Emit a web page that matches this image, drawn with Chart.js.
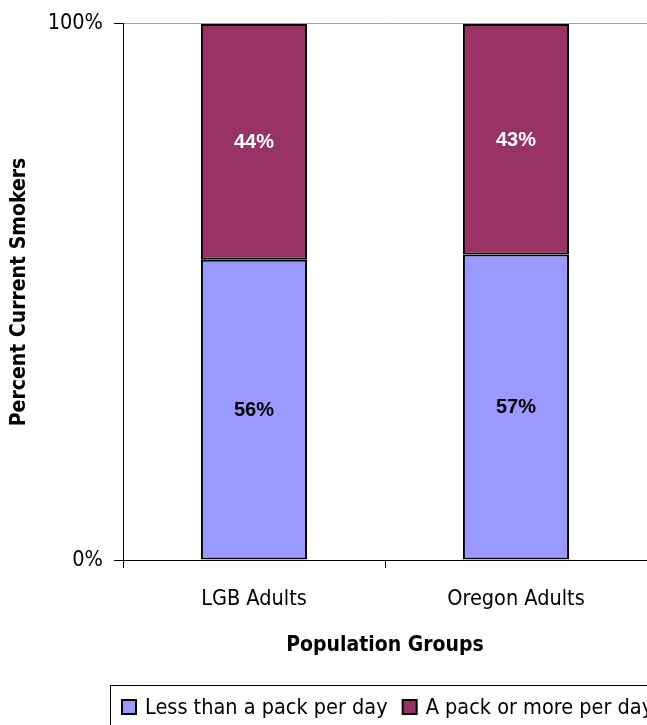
<!DOCTYPE html>
<html>
<head>
<meta charset="utf-8">
<script src="https://cdn.jsdelivr.net/npm/chart.js@4"></script>
<style>
  html, body { margin: 0; padding: 0; background: #fff; overflow: hidden; }
  #wrap { width: 647px; height: 725px; }
</style>
</head>
<body>
<div id="wrap"><canvas id="c" width="647" height="725"></canvas></div>
<script>
// Population groups on the x axis
const groups = ['LGB Adults', 'Oregon Adults'];
// Share of current smokers by amount smoked (percent)
const lessThanPack = [56, 57];
const packOrMore = [44, 43];
const seriesNames = ['Less than a pack per day', 'A pack or more per day'];
const yTickValues = [0, 100];

const NARROW = '"Liberation Sans Narrow", "Arial Narrow", "DejaVu Sans Condensed", sans-serif';
const SANS = '"Liberation Sans", Arial, sans-serif';
const TEXT_SIZE = 21.5;
const TITLE_SIZE = 21;

// Percent text in the middle of each stacked segment
const segmentLabels = {
  id: 'segmentLabels',
  afterDatasetsDraw(chart) {
    const ctx = chart.ctx;
    ctx.save();
    ctx.font = 'bold 20px ' + SANS;
    ctx.textAlign = 'center';
    ctx.textBaseline = 'middle';
    chart.data.datasets.forEach((ds, di) => {
      const meta = chart.getDatasetMeta(di);
      meta.data.forEach((bar, i) => {
        const v = ds.data[i];
        ctx.fillStyle = ds.labelColor;
        ctx.fillText(v + '%', bar.x, (bar.y + bar.base) / 2 + 1);
      });
    });
    ctx.restore();
  }
};

// Boxed legend below the axis title
const boxLegend = {
  id: 'boxLegend',
  afterDraw(chart) {
    const ctx = chart.ctx;
    ctx.save();
    ctx.font = TEXT_SIZE + 'px ' + NARROW;
    ctx.textBaseline = 'middle';
    const top = 685, cy = 707;
    ctx.strokeStyle = '#000';
    ctx.lineWidth = 1;
    ctx.strokeRect(110.5, top + 0.5, 700, 80);
    let x = 122;
    chart.data.datasets.forEach((ds) => {
      ctx.fillStyle = ds.backgroundColor;
      ctx.fillRect(x, cy - 7, 14, 14);
      ctx.lineWidth = 2;
      ctx.strokeStyle = '#000';
      ctx.strokeRect(x, cy - 7, 14, 14);
      ctx.fillStyle = '#000';
      ctx.fillText(ds.label, x + 23, cy + 1);
      x += 23 + ctx.measureText(ds.label).width + 15;
    });
    ctx.restore();
  }
};

new Chart(document.getElementById('c'), {
  type: 'bar',
  data: {
    labels: groups,
    datasets: [
      {
        label: seriesNames[0],
        data: lessThanPack,
        backgroundColor: '#9999FF',
        borderColor: '#000',
        borderWidth: 2,
        borderSkipped: false,
        labelColor: '#000'
      },
      {
        label: seriesNames[1],
        data: packOrMore,
        backgroundColor: '#993366',
        borderColor: '#000',
        borderWidth: 2,
        borderSkipped: false,
        labelColor: '#fff'
      }
    ]
  },
  options: {
    responsive: false,
    animation: false,
    events: [],
    layout: { padding: { top: 7, right: 0, bottom: 67, left: 0 } },
    datasets: { bar: { categoryPercentage: 1, barPercentage: 0.405 } },
    plugins: {
      legend: { display: false },
      tooltip: { enabled: false }
    },
    scales: {
      x: {
        stacked: true,
        grid: {
          offset: true,
          drawOnChartArea: false,
          drawTicks: true,
          tickLength: 8,
          tickColor: '#000',
          tickWidth: 1
        },
        border: { display: true, color: '#000', width: 1 },
        ticks: { color: '#000', font: { family: NARROW, size: TEXT_SIZE }, padding: 19 },
        title: {
          display: true,
          text: 'Population Groups',
          color: '#000',
          font: { family: NARROW, size: TITLE_SIZE, weight: 'bold' },
          padding: { top: 1, bottom: 0 }
        }
      },
      y: {
        stacked: true,
        min: 0,
        max: 100,
        afterBuildTicks(scale) {
          scale.ticks = yTickValues.map(v => ({ value: v }));
        },
        afterFit(scale) { scale.width = 123; },
        grid: {
          drawOnChartArea: true,
          color: (c) => (c.tick && c.tick.value === 100 ? '#a0a0a0' : 'rgba(0,0,0,0)'),
          tickColor: '#000',
          tickLength: 9,
          tickWidth: 1
        },
        border: { display: true, color: '#000', width: 1 },
        ticks: {
          color: '#000',
          font: { family: NARROW, size: TEXT_SIZE },
          padding: 11,
          callback: (v) => v + '%'
        },
        title: {
          display: true,
          text: 'Percent Current Smokers',
          color: '#000',
          font: { family: NARROW, size: TITLE_SIZE, weight: 'bold' },
          padding: { top: 7, bottom: 0 }
        }
      }
    }
  },
  plugins: [segmentLabels, boxLegend]
});
</script>
</body>
</html>
